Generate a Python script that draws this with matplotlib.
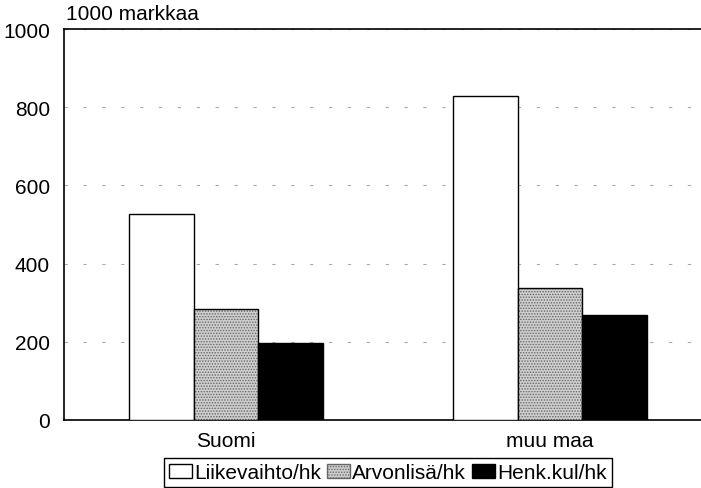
import matplotlib.pyplot as plt
import numpy as np
from matplotlib.patches import Patch

plt.rcParams["font.family"] = ["Liberation Sans", "DejaVu Sans"]
plt.rcParams["font.size"] = 15
plt.rcParams["hatch.linewidth"] = 0.7

categories = ["Suomi", "muu maa"]
series = ["Liikevaihto/hk", "Arvonlisä/hk", "Henk.kul/hk"]
liikevaihto = [527, 828]
arvonlisa = [285, 338]
henk_kul = [196, 269]
yticks = [0, 200, 400, 600, 800, 1000]

fig = plt.figure(figsize=(7.01, 4.89), dpi=100)
ax = fig.add_axes([64 / 701, 68 / 489, 1 - 64 / 701, 391 / 489])

x = np.arange(len(categories))
width = 0.2
styles = [
    dict(facecolor="white", edgecolor="black", linewidth=1.0),
    dict(facecolor="#cfcfcf", edgecolor="#666666", hatch="......", linewidth=0.0),
    dict(facecolor="black", edgecolor="black", linewidth=1.0),
]
for i, vals in enumerate([liikevaihto, arvonlisa, henk_kul]):
    ax.bar(x + (i - 1) * width, vals, width, **styles[i], zorder=3)
    if i == 1:
        # outline drawn separately so hatch colour stays soft
        ax.bar(x + (i - 1) * width, vals, width, facecolor="none",
               edgecolor="black", linewidth=1.0, zorder=4)

ax.set_xlim(-0.5, (701 - 226) / 324)
ax.set_ylim(0, 1000)
ax.set_yticks(yticks)
ax.set_xticks(x)
ax.set_xticklabels(categories)
ax.tick_params(length=0)
ax.tick_params(axis="y", pad=10)
ax.tick_params(axis="x", pad=8)

ax.grid(axis="y", color="#aaaaaa", linestyle=(0, (3, 14)), linewidth=0.8, zorder=0)
ax.spines["right"].set_visible(False)
for s in ["left", "top", "bottom"]:
    ax.spines[s].set_linewidth(1.2)

fig.text(66 / 701, 1 - 15 / 489, "1000 markkaa", va="center", ha="left")

handles = [
    Patch(facecolor="white", edgecolor="black", label=series[0]),
    Patch(facecolor="#cfcfcf", edgecolor="#666666", hatch="......", label=series[1]),
    Patch(facecolor="black", edgecolor="black", label=series[2]),
]
fig.legend(
    handles=handles,
    loc="upper center",
    bbox_to_anchor=(388 / 701, 30 / 489),
    ncol=3,
    frameon=True,
    fancybox=False,
    edgecolor="black",
    framealpha=1,
    handlelength=1.1,
    handleheight=0.7,
    handletextpad=0.1,
    columnspacing=0.3,
    borderpad=0.25,
    borderaxespad=0,
)

fig.savefig("out.png", dpi=100)
